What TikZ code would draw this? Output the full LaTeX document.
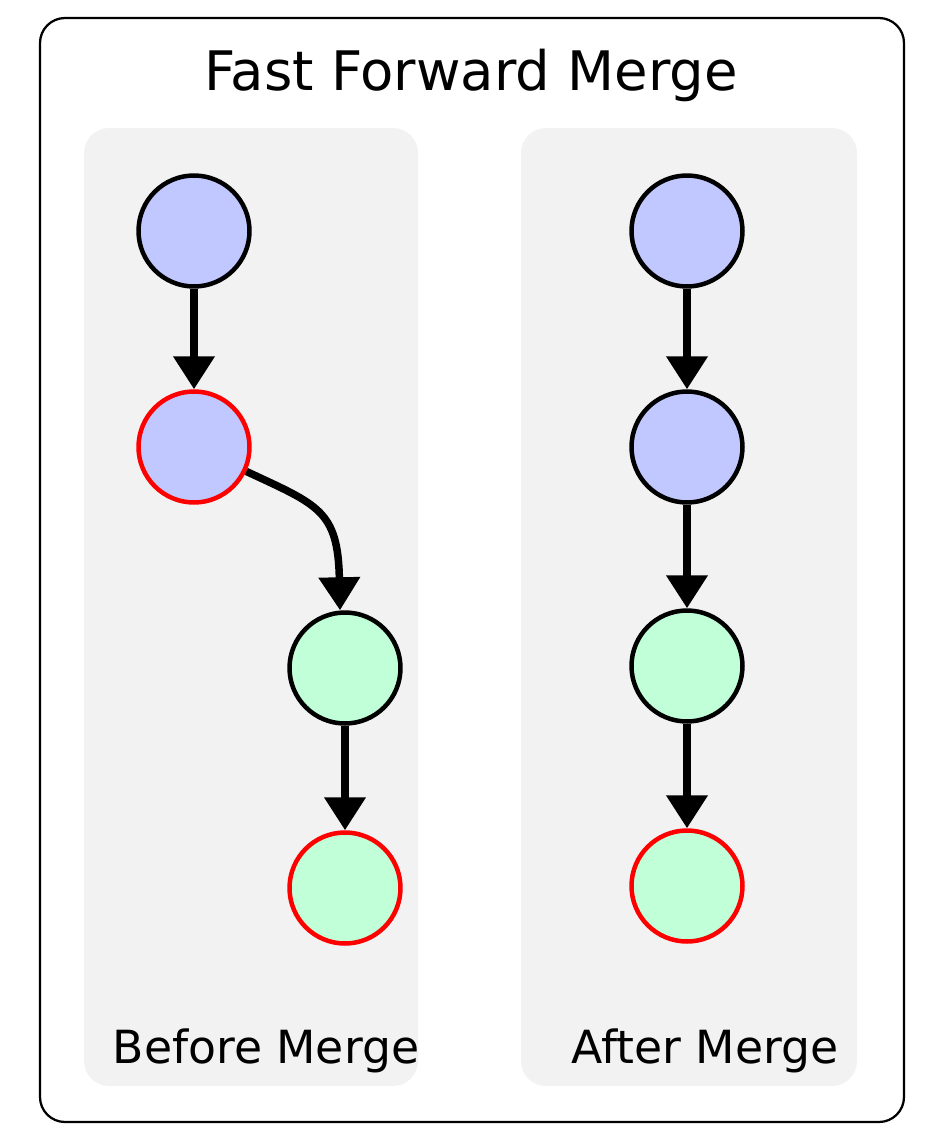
\documentclass[tikz,border=0pt]{standalone}
\usepackage{fontspec}
\setmainfont{DejaVu Sans}
\usetikzlibrary{arrows.meta}
\definecolor{commitblue}{RGB}{192,200,255}
\definecolor{commitgreen}{RGB}{192,255,216}
\definecolor{panelgray}{RGB}{242,242,242}

\begin{document}
\begin{tikzpicture}[
    x=0.02cm, y=-0.02cm,
    commit/.style={circle, minimum size=2.22cm, inner sep=0pt, line width=0.09cm, draw=black},
    head/.style={draw=red},
    link/.style={line width=0.15cm, -{Triangle[width=0.8cm, length=0.66cm]}}
]
    \useasboundingbox (0,0) rectangle (950,1146);

    % Frame and panels
    \draw[line width=0.045cm, rounded corners=0.5cm] (40,18) rectangle (904,1122);
    \fill[panelgray, rounded corners=0.5cm] (84,128) rectangle (418,1086);
    \fill[panelgray, rounded corners=0.5cm] (521,128) rectangle (857,1086);

    % Title
    \node[font=\fontsize{31}{36}\selectfont, anchor=base] (title) at (471,90) {Fast Forward Merge};

    % Before merge
    \node[commit, fill=commitblue] (b1) at (194,231) {};
    \node[commit, head, fill=commitblue] (b2) at (194,447) {};
    \node[commit, fill=commitgreen] (b3) at (345,668) {};
    \node[commit, head, fill=commitgreen] (b4) at (345,888) {};
    \draw[link] (b1) -- (b2);
    \draw[link] (b2.-25) .. controls (318,505) and (338,510) .. (b3.north -| 340,0);
    \draw[link] (b3) -- (b4);

    % After merge
    \node[commit, fill=commitblue] (a1) at (687,231) {};
    \node[commit, fill=commitblue] (a2) at (687,447) {};
    \node[commit, fill=commitgreen] (a3) at (687,666) {};
    \node[commit, head, fill=commitgreen] (a4) at (687,886) {};
    \draw[link] (a1) -- (a2);
    \draw[link] (a2) -- (a3);
    \draw[link] (a3) -- (a4);

    % Labels
    \node[font=\fontsize{26}{30}\selectfont, anchor=base] (before) at (266,1063) {Before Merge};
    \node[font=\fontsize{26}{30}\selectfont, anchor=base] (after) at (705,1063) {After Merge};
\end{tikzpicture}
\end{document}
